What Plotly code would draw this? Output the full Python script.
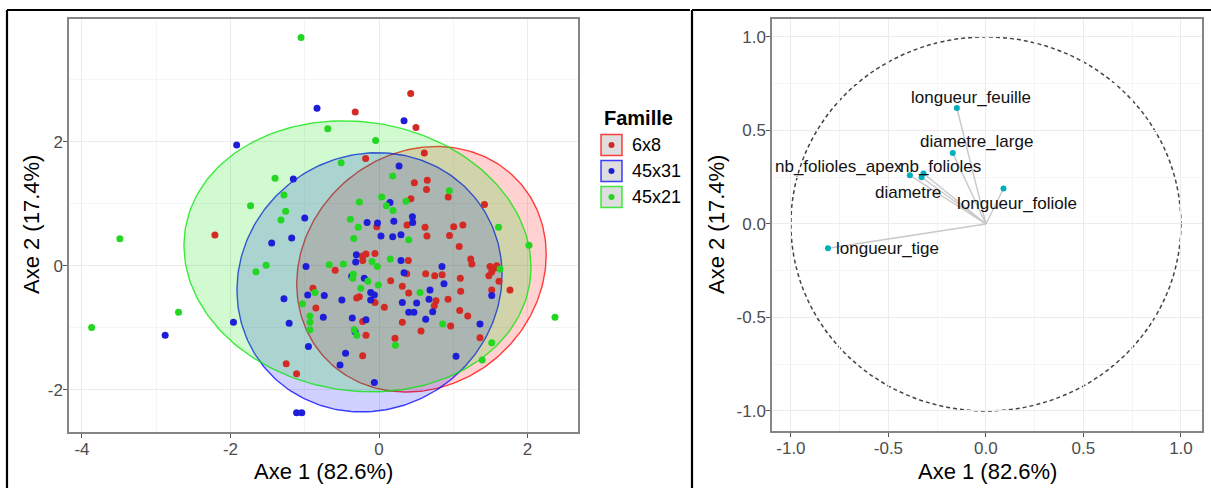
import numpy as np
import plotly.graph_objects as go

W, H = 1211, 488

# ---------------- data : individuals (left panel) ----------------
familles = ["6x8", "45x31", "45x21"]

red_x = [-2.21, -1.25, -1.11, -0.32, 0.427, 0.498, 0.61, -0.18, 0.476, 0.65, 0.64, 0.933, 0.43, 1.42,
         -0.03, 0.377, 0.62, 1.006, 1.13, 0.646, 0.95, 1.08, -0.22, -0.175, -0.054, -0.22, 0.395, 1.235,
         1.25, -0.59, 1.495, 1.553, 1.518, 1.48, 1.585, 0.373, 0.629, 0.75, 0.85, 1.095, 0.157, 1.616,
         -0.89, -0.265, -0.30, -0.054, 0.072, 0.314, 0.40, 1.10, 0.768, 0.745, 0.93, 1.518, 1.764, -0.85,
         -0.22, 1.087, 1.195, 0.314, 0.965, -0.175, 0.566, 0.215, 1.36, -0.22]
red_y = [0.495, -1.58, -1.74, 2.48, 2.78, 2.23, 1.82, 1.73, 1.34, 1.38, 1.23, 1.11, 1.08, 0.99,
         0.63, 0.66, 0.62, 0.63, 0.66, 0.48, 0.49, 0.31, 0.16, 0.19, 0.20, 0.086, 0.086, 0.11,
         0.03, -0.07, -0.01, -0.04, -0.10, -0.16, 0.0, -0.13, -0.13, -0.16, -0.145, -0.20, -0.24, -0.25,
         -0.36, -0.50, -0.52, -0.59, -0.67, -0.33, -0.44, -0.41, -0.565, -0.645, -0.54, -0.39, -0.39, -0.68,
         -0.90, -0.72, -0.81, -0.91, -0.97, -1.12, -1.05, -1.17, -1.16, -1.45]

blue_x = [-1.917, -1.154, -1.445, -1.176, -1.28, -1.96, -1.21, -2.88, -1.11, -1.04, -0.835, 0.337, 0.27,
          0.148, -1.0, -0.16, -0.02, 0.20, 0.45, 0.454, 0.027, 0.184, 0.296, -0.305, -0.314, 0.296,
          -0.983, 0.848, 0.337, -0.368, -0.198, 0.875, -0.96, -0.737, -0.112, -0.063, -0.112, -0.50,
          0.687, 0.314, 0.507, 0.673, 0.723, 1.518, -0.75, -0.36, -0.175, 0.40, 0.47, 0.629, 1.36,
          -0.323, -0.95, -0.45, 1.037, -0.525, -0.063]
blue_y = [1.95, 1.40, 0.366, 0.447, -0.53, -0.91, -0.925, -1.12, -2.37, -2.37, 2.54, 2.34, 1.61,
          1.02, 0.77, 0.70, 0.69, 0.72, 0.79, 0.70, 0.48, 0.47, 0.50, 0.18, 0.06, 0.086,
          -0.01, -0.01, -0.11, -0.17, -0.20, -0.29, -0.47, -0.48, -0.43, -0.47, -0.55, -0.55,
          -0.39, -0.59, -0.60, -0.54, -0.74, -0.48, -0.83, -0.84, -0.87, -0.75, -0.75, -0.86, -0.94,
          -1.06, -1.30, -1.41, -1.46, -1.60, -1.88]

green_x = [-1.05, -1.40, -1.28, -1.73, -1.257, -1.32, -3.49, -1.52, -1.657, -2.70, -3.87, -0.69, -0.045,
           -0.51, 0.184, 0.947, 0.364, -0.265, 0.036, 0.10, 0.189, -0.386, -0.28, 1.61, -0.34, 0.40,
           2.02, -0.094, -0.023, 0.152, -0.67, -0.48, 1.63, -0.346, -0.355, -0.15, -0.862, -0.246,
           -0.01, 0.552, -1.03, -0.93, -0.93, -0.93, 0.857, -0.333, -0.30, 0.22, 1.518, 1.39, 2.37]
green_y = [3.68, 1.41, 1.14, 0.97, 0.88, 0.74, 0.435, 0.01, -0.097, -0.75, -0.995, 2.21, 2.02,
           1.66, 1.45, 1.21, 1.04, 1.03, 1.11, 0.97, 0.89, 0.75, 0.62, 0.62, 0.44, 0.42,
           0.33, 0.07, -0.01, 0.11, 0.016, 0.03, -0.05, -0.135, -0.20, -0.25, -0.43, -0.36,
           -0.31, -0.43, -0.61, -0.81, -0.91, -1.03, -0.94, -1.03, -1.12, -1.28, -1.24, -1.52, -0.83]

# concentration ellipses (centre, half extents, correlation)
ell_cx = [0.572, -0.128, -0.29]
ell_cy = [-0.056, -0.266, 0.153]
ell_rx = [1.68, 1.785, 2.337]
ell_ry = [1.98, 2.09, 2.185]
ell_rho = [0.12, 0.06, -0.08]

x_ticks_ind = [-4, -2, 0, 2]
y_ticks_ind = [-2, 0, 2]

# ---------------- data : variables (right panel) ----------------
variables = ["longueur_feuille", "diametre_large", "nb_folioles_apex", "nb_folioles",
             "diametre", "longueur_foliole", "longueur_tige"]
dim1 = [-0.149, -0.17, -0.39, -0.32, -0.33, 0.09, -0.81]
dim2 = [0.62, 0.38, 0.26, 0.27, 0.25, 0.19, -0.13]
var_ticks = [-1.0, -0.5, 0.0, 0.5, 1.0]

# ---------------- styles ----------------
pt_colors = ["#d42a24", "#1e1ed8", "#22d622"]
rgb = [(255, 0, 0), (0, 0, 255), (0, 230, 0)]
label_shift = [(14, 11), (24, 11), (-71, 9), (17, 7), (-14, -15), (14, -15), (6, 0)]
label_anchor = ["center", "center", "center", "center", "center", "center", "left"]

FONT = "Liberation Sans, Arial, sans-serif"

fig = go.Figure()

# ellipses
t = np.linspace(0, 2 * np.pi, 240)
for i in range(3):
    r = ell_rho[i]
    ex = ell_cx[i] + ell_rx[i] * np.cos(t)
    ey = ell_cy[i] + ell_ry[i] * (r * np.cos(t) + np.sqrt(1 - r * r) * np.sin(t))
    c = rgb[i]
    fig.add_trace(go.Scatter(x=ex, y=ey, mode="lines", fill="toself",
                             fillcolor=f"rgba({c[0]},{c[1]},{c[2]},0.18)",
                             line=dict(color=f"rgba({c[0]},{c[1]},{c[2]},0.75)", width=1.4),
                             hoverinfo="skip", showlegend=False, xaxis="x", yaxis="y"))

# points
groups = [(red_x, red_y), (blue_x, blue_y), (green_x, green_y)]
for i, (gx, gy) in enumerate(groups):
    fig.add_trace(go.Scatter(x=gx, y=gy, mode="markers", name=familles[i],
                             marker=dict(color=pt_colors[i], size=7),
                             showlegend=False, xaxis="x", yaxis="y"))

# variable arrows (segments from origin)
seg_x, seg_y = [], []
for a, b in zip(dim1, dim2):
    seg_x += [0, a, None]
    seg_y += [0, b, None]
fig.add_trace(go.Scatter(x=seg_x, y=seg_y, mode="lines", line=dict(color="#c8c8c8", width=1.4),
                         hoverinfo="skip", showlegend=False, xaxis="x2", yaxis="y2"))
fig.add_trace(go.Scatter(x=dim1, y=dim2, mode="markers", marker=dict(color="#00AFBB", size=6),
                         text=variables, showlegend=False, xaxis="x2", yaxis="y2"))

annotations = []
for i, v in enumerate(variables):
    annotations.append(dict(x=dim1[i], y=dim2[i], xref="x2", yref="y2", text=v, showarrow=False,
                            xanchor=label_anchor[i], yanchor="middle",
                            xshift=label_shift[i][0], yshift=label_shift[i][1],
                            font=dict(family=FONT, size=17, color="#111111")))

shapes = []
# unit circle
shapes.append(dict(type="circle", xref="x2", yref="y2", x0=-1, y0=-1, x1=1, y1=1,
                   line=dict(color="#444444", width=1.5, dash="4px,3px"), layer="below"))

def px(x):
    return x / W

def py(y):
    return 1 - y / H

# outer black frames
for (x0, y0, x1, y1) in [(7, 10, 690, 10), (7, 10, 7, 490), (692, 10, 1211, 10), (692, 10, 692, 490)]:
    shapes.append(dict(type="line", xref="paper", yref="paper", x0=px(x0), y0=py(y0), x1=px(x1), y1=py(y1),
                       line=dict(color="black", width=2.2)))

# legend (drawn)
annotations.append(dict(x=px(602), y=py(118), xref="paper", yref="paper", text="<b>Famille</b>",
                        showarrow=False, xanchor="left", yanchor="middle",
                        font=dict(family=FONT, size=20, color="black")))
key_y = [145, 171, 197]
for i, fam in enumerate(familles):
    cy = key_y[i]
    c = rgb[i]
    shapes.append(dict(type="rect", xref="paper", yref="paper", x0=px(601), x1=px(622),
                       y0=py(cy + 10.5), y1=py(cy - 10.5), fillcolor="#dedede",
                       line=dict(color=f"rgba({c[0]},{c[1]},{c[2]},0.75)", width=1.5)))
    shapes.append(dict(type="circle", xref="paper", yref="paper", x0=px(608.5), x1=px(614.5),
                       y0=py(cy + 3), y1=py(cy - 3), fillcolor=pt_colors[i],
                       line=dict(color=pt_colors[i], width=0)))
    annotations.append(dict(x=px(630), y=py(cy), xref="paper", yref="paper", text=fam,
                            showarrow=False, xanchor="left", yanchor="middle",
                            font=dict(family=FONT, size=18, color="black")))

# axis titles
title_font = dict(family=FONT, size=22, color="black")
annotations += [
    dict(x=px(323), y=py(471), xref="paper", yref="paper", text="Axe 1 (82.6%)", showarrow=False,
         xanchor="center", yanchor="middle", font=title_font),
    dict(x=px(31), y=py(225), xref="paper", yref="paper", text="Axe 2 (17.4%)", showarrow=False,
         textangle=-90, xanchor="center", yanchor="middle", font=title_font),
    dict(x=px(987), y=py(471), xref="paper", yref="paper", text="Axe 1 (82.6%)", showarrow=False,
         xanchor="center", yanchor="middle", font=title_font),
    dict(x=px(716), y=py(225), xref="paper", yref="paper", text="Axe 2 (17.4%)", showarrow=False,
         textangle=-90, xanchor="center", yanchor="middle", font=title_font),
]

axis_common = dict(showline=True, linecolor="#858585", linewidth=1.5, mirror=True,
                   ticks="outside", ticklen=4, tickcolor="#555555", tickwidth=1,
                   ticklabelstandoff=-3,
                   tickfont=dict(family=FONT, size=17, color="#4d4d4d"),
                   showgrid=True, gridcolor="#ebebeb", gridwidth=1.2, zeroline=False)

fig.update_layout(
    width=W, height=H,
    margin=dict(l=0, r=0, t=0, b=0),
    paper_bgcolor="white", plot_bgcolor="white",
    showlegend=False,
    xaxis=dict(domain=[px(69), px(578)], range=[-4.175, 2.68], anchor="y",
               tickvals=x_ticks_ind, ticktext=[str(v) for v in x_ticks_ind],
               minor=dict(dtick=1, tick0=0, showgrid=True, gridcolor="#f5f5f5", gridwidth=0.7, ticks=""),
               **axis_common),
    yaxis=dict(domain=[py(432), py(19)], range=[-2.68, 3.98], anchor="x",
               tickvals=y_ticks_ind, ticktext=[str(v) for v in y_ticks_ind],
               minor=dict(dtick=1, tick0=0, showgrid=True, gridcolor="#f5f5f5", gridwidth=0.7, ticks=""),
               **axis_common),
    xaxis2=dict(domain=[px(772), px(1202)], range=[-1.097, 1.108], anchor="y2",
                tickvals=var_ticks, ticktext=[f"{v:.1f}" for v in var_ticks],
                minor=dict(dtick=0.25, tick0=0, showgrid=True, gridcolor="#f5f5f5", gridwidth=0.7, ticks=""),
                **axis_common),
    yaxis2=dict(domain=[py(431), py(19)], range=[-1.107, 1.096], anchor="x2",
                tickvals=var_ticks, ticktext=[f"{v:.1f}" for v in var_ticks],
                minor=dict(dtick=0.25, tick0=0, showgrid=True, gridcolor="#f5f5f5", gridwidth=0.7, ticks=""),
                **axis_common),
    shapes=shapes,
    annotations=annotations,
)

fig.write_html("out.html", config={"displayModeBar": False},
               post_script="document.body.style.margin='0';document.body.style.overflow='hidden';")
